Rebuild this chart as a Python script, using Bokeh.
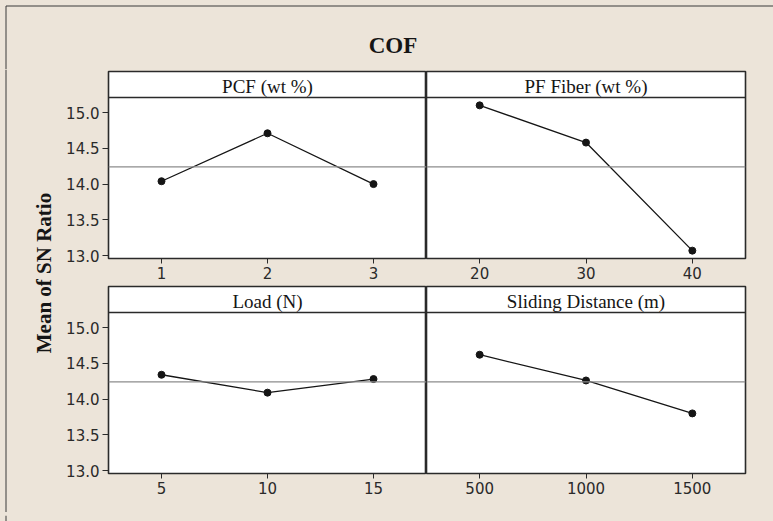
import math

from bokeh.embed import file_html
from bokeh.layouts import column, row
from bokeh.models import FixedTicker, Label, PrintfTickFormatter, Range1d, Span
from bokeh.plotting import figure
from bokeh.resources import INLINE

# Main effects for SN ratios (larger is better) -- COF
pcf_levels = [1, 2, 3]
pcf_sn = [14.04, 14.71, 14.00]

fiber_levels = [20, 30, 40]
fiber_sn = [15.10, 14.58, 13.07]

load_levels = [5, 10, 15]
load_sn = [14.34, 14.09, 14.28]

dist_levels = [500, 1000, 1500]
dist_sn = [14.62, 14.26, 13.80]

factor_names = ["PCF (wt %)", "PF Fiber (wt %)", "Load (N)", "Sliding Distance (m)"]
y_ticks = [13.0, 13.5, 14.0, 14.5, 15.0]
GRAND_MEAN = 14.24

chart_title = "COF"
y_title = "Mean of SN Ratio"

# styling
BG = "#ECE4D9"
EDGE = "#2a2a2a"
INK = "#151515"
MEAN_COLOR = "#8c8c8c"
SERIF = "Liberation Serif"
SANS = "DejaVu Sans"

# panel geometry (pixels)
PLOT_H = 161
STRIP_H = 26
Y_LO, Y_HI = 12.96, 15.21
PX = (Y_HI - Y_LO) / PLOT_H
Y_TOP = Y_HI + STRIP_H * PX


def panel(levels, sn, name, left, top_row):
    step = levels[1] - levels[0]
    x_lo, x_hi = levels[0] - step / 2, levels[-1] + step / 2
    p = figure(
        width=371 if left else 347,
        height=216 if top_row else 227,
        x_range=Range1d(x_lo, x_hi),
        y_range=Range1d(Y_LO, Y_TOP),
        output_backend="svg",
        toolbar_location=None,
        x_axis_location="below",
        y_axis_location="left" if left else None,
        min_border_left=53 if left else 0,
        min_border_right=0 if left else 28,
        min_border_top=2 if top_row else 1,
        min_border_bottom=27 if top_row else 39,
    )
    p.background_fill_color = "white"
    p.border_fill_color = BG
    p.outline_line_color = EDGE
    p.outline_line_width = 1.6
    p.grid.visible = False

    xa = p.xaxis[0]
    xa.ticker = FixedTicker(ticks=levels)
    xa.axis_line_color = None
    xa.minor_tick_line_color = None
    xa.major_tick_in = 0
    xa.major_tick_out = 5
    xa.major_tick_line_color = EDGE
    xa.major_label_standoff = 3
    xa.major_label_text_font = SANS
    xa.major_label_text_font_size = "15px"
    xa.major_label_text_color = "#2a2a2a"

    if left:
        ya = p.yaxis[0]
        ya.ticker = FixedTicker(ticks=y_ticks)
        ya.formatter = PrintfTickFormatter(format="%.1f")
        ya.axis_line_color = None
        ya.minor_tick_line_color = None
        ya.major_tick_in = 0
        ya.major_tick_out = 6
        ya.major_tick_line_color = EDGE
        ya.major_label_standoff = 3
        ya.major_label_text_font = SANS
        ya.major_label_text_font_size = "15px"
        ya.major_label_text_color = "#2a2a2a"

    # strip header separator and label
    p.add_layout(Span(location=Y_HI, dimension="width", line_color=EDGE, line_width=1.6))
    p.add_layout(Label(x=(x_lo + x_hi) / 2, y=Y_HI + 11.3 * PX, text=name,
                       text_font=SERIF, text_font_size="19px", text_color=INK,
                       text_align="center", text_baseline="middle"))

    # grand mean reference line
    p.add_layout(Span(location=GRAND_MEAN, dimension="width",
                      line_color=MEAN_COLOR, line_width=1.2))

    p.line(levels, sn, line_color=INK, line_width=1.3)
    p.scatter(levels, sn, size=7, color=INK)
    return p


def deco(width, height, x0, y0):
    # plain beige strip whose data coordinates equal page pixels
    p = figure(
        width=width, height=height,
        x_range=Range1d(x0, x0 + width),
        y_range=Range1d(y0 + height, y0),
        output_backend="svg", toolbar_location=None,
        x_axis_location=None, y_axis_location=None,
        min_border_left=0, min_border_right=0, min_border_top=0, min_border_bottom=0,
    )
    p.background_fill_color = BG
    p.border_fill_color = BG
    p.outline_line_color = None
    p.grid.visible = False
    return p


head = deco(773, 69, 0, 0)
head.segment(x0=[5.5, 5.5], y0=[5.5, 5.5], x1=[773, 5.5], y1=[5.5, 69],
             line_color="#3a3a3a", line_width=1)
head.add_layout(Label(x=392.5, y=44.5, text=chart_title, text_font=SERIF,
                      text_font_style="bold", text_font_size="23px", text_color=INK,
                      text_align="center", text_baseline="middle"))

ylab = deco(55, 443, 0, 69)
ylab.segment(x0=[5.5], y0=[69], x1=[5.5], y1=[512], line_color="#3a3a3a", line_width=1)
ylab.add_layout(Label(x=43.5, y=272.5, text=y_title, angle=math.pi / 2,
                      text_font=SERIF, text_font_style="bold", text_font_size="21px",
                      text_color=INK, text_align="center", text_baseline="middle"))

foot = deco(773, 9, 0, 512)
foot.segment(x0=[5.5], y0=[512], x1=[5.5], y1=[518.5], line_color="#3a3a3a", line_width=1)
foot.segment(x0=[5.5], y0=[518.5], x1=[773], y1=[518.5], line_color="#b5aea5", line_width=1)

tl = panel(pcf_levels, pcf_sn, factor_names[0], True, True)
tr = panel(fiber_levels, fiber_sn, factor_names[1], False, True)
bl = panel(load_levels, load_sn, factor_names[2], True, False)
br = panel(dist_levels, dist_sn, factor_names[3], False, False)

p = column(
    head,
    row(ylab, column(row(tl, tr, spacing=0), row(bl, br, spacing=0), spacing=0), spacing=0),
    foot,
    spacing=0,
    styles={"background-color": BG},
)

open("out.html", "w").write(file_html(p, INLINE))
